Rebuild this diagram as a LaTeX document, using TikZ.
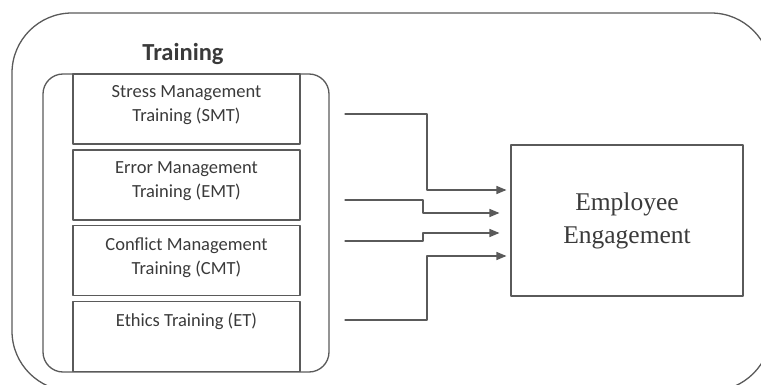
\documentclass[tikz,border=0pt]{standalone}
\usepackage{fontspec}
\setmainfont{Liberation Serif}
\newfontfamily\calibri{Carlito}
\usepackage{tikz}
\usetikzlibrary{arrows}

\definecolor{linegray}{HTML}{5A5A5A}
\definecolor{textgray}{HTML}{3A3A3A}

\tikzset{
  tbox/.style={draw=linegray, line width=1.3pt, minimum width=227pt, minimum height=70pt, inner sep=0pt},
  tlabel/.style={anchor=north, yshift=-9pt, align=center, text=textgray, font=\calibri\fontsize{18.5}{24}\selectfont},
  feed/.style={->, draw=linegray, line width=1.3pt},
}

\begin{document}
\begin{tikzpicture}[line cap=round,line join=round,>=triangle 45,x=1pt,y=-1pt]

\useasboundingbox (0,0) rectangle (761,385);
\clip (0,0) rectangle (761,385);

% outer frame and the training group
\draw[linegray, line width=1.3pt, rounded corners=60pt] (12,13) rectangle (771,391);
\draw[linegray, line width=1.3pt, rounded corners=20pt] (43,74) rectangle (329,372);
\node[text=textgray, font=\calibri\bfseries\fontsize{24.5}{28}\selectfont] (title) at (183,54) {Training};

% the four trainings
\node[tbox, label={[tlabel]north:{Stress Management\\Training (SMT)}}] (smt) at (186.5,109) {};
\node[tbox, label={[tlabel]north:{Error Management\\Training (EMT)}}] (emt) at (186.5,185) {};
\node[tbox, label={[tlabel]north:{Conflict Management\\Training (CMT)}}] (cmt) at (186.5,260.5) {};
\node[tbox, label={[tlabel]north:{Ethics Training (ET)}}] (et) at (186.5,336.5) {};

% outcome
\node[draw=linegray, line width=1.3pt, minimum width=232pt, minimum height=151pt, align=center,
  text=textgray, font=\fontsize{25.5}{33}\selectfont] (ee) at (627,220.5) {Employee\\Engagement};

% feeds into the outcome
\coordinate (s1) at (345,114);
\coordinate (s2) at (345,200);
\coordinate (s3) at (345,241);
\coordinate (s4) at (345,320);
\draw[feed, shorten >=4pt] (s1) -| (427,190) -- (ee.west |- 0,190);
\draw[feed, shorten >=11pt] (s2) -| (423,213) -- (ee.west |- 0,213);
\draw[feed, shorten >=11pt] (s3) -| (423,233) -- (ee.west |- 0,233);
\draw[feed, shorten >=4pt] (s4) -| (427,256) -- (ee.west |- 0,256);

\end{tikzpicture}
\end{document}
